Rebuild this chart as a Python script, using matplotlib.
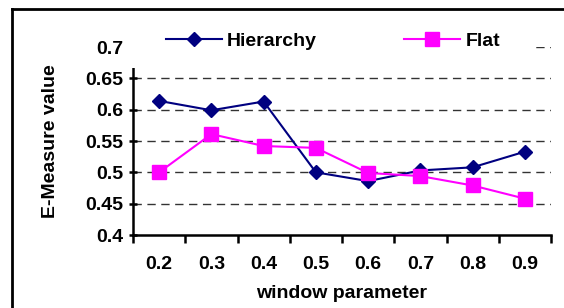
import numpy as np
import matplotlib
matplotlib.use('Agg')
import matplotlib.pyplot as plt
from matplotlib.lines import Line2D
from matplotlib.patches import Rectangle

# data
windows = ['0.2', '0.3', '0.4', '0.5', '0.6', '0.7', '0.8', '0.9']
hierarchy = [0.614, 0.599, 0.613, 0.500, 0.486, 0.503, 0.508, 0.533]
flat = [0.500, 0.561, 0.542, 0.539, 0.499, 0.494, 0.479, 0.458]
yticks = [0.4, 0.45, 0.5, 0.55, 0.6, 0.65, 0.7]
ytick_labels = ['0.4', '0.45', '0.5', '0.55', '0.6', '0.65', '0.7']

plt.rcParams['font.family'] = ['Liberation Sans', 'DejaVu Sans']
plt.rcParams['font.weight'] = 'bold'
plt.rcParams['font.size'] = 14

W, H = 564, 308
fig = plt.figure(figsize=(W / 100, H / 100), dpi=100)
ax = fig.add_axes([133 / W, 1 - 235 / H, (551 - 133) / W, (235 - 47) / H])

x = np.arange(len(windows))
ax.plot(x, hierarchy, color='#000080', marker='D', ms=7.5, lw=1.5, label='Hierarchy', zorder=3)
ax.plot(x, flat, color='#ff00ff', marker='s', ms=10, lw=1.5, label='Flat', zorder=3)

ax.set_xlim(-0.5, len(windows) - 0.5)
ax.set_ylim(0.4, 0.7)
ax.set_yticks(yticks)
ax.set_yticklabels(ytick_labels, fontweight='bold')
ax.set_xticks(x)
ax.set_xticklabels(windows, fontweight='bold')
ax.tick_params(axis='x', length=0, pad=15)
ax.set_xticks(np.arange(-0.5, len(windows)), minor=True)
ax.tick_params(axis='x', which='minor', length=6, width=1.8, direction='out')
ax.tick_params(axis='y', length=6, width=1.8, direction='inout', pad=4)

for v in yticks[1:]:
    ax.axhline(v, color='#333333', lw=1, ls=(0, (6, 4)), zorder=1)

for s in ['top', 'right']:
    ax.spines[s].set_visible(False)
for s in ['left', 'bottom']:
    ax.spines[s].set_linewidth(1.8)

ax.set_xlabel('window parameter', fontweight='bold')
ax.set_ylabel('E-Measure value', fontweight='bold')
ax.xaxis.set_label_coords(0.5, (235 - 285) / 188)
ax.yaxis.set_label_coords((59 - 133) / 418, 0.5)

# white box behind the legend, covering the top of the plot
fig.patches.append(Rectangle((126 / W, 1 - 68 / H), (535 - 126) / W, 44 / H,
                             transform=fig.transFigure, facecolor='white',
                             edgecolor='none', zorder=5))
leg = fig.legend(loc='center left', bbox_to_anchor=((156 - 7.8) / W, 1 - 41 / H), ncol=2,
                 frameon=False, columnspacing=4.47, handlelength=2.9, handletextpad=0.26,
                 prop={'weight': 'bold', 'size': 14})
leg.set_zorder(6)

# outer chart frame (left and top edges visible)
fig.add_artist(Line2D([12 / W, 12 / W], [0, 1 - 9 / H], transform=fig.transFigure,
                      color='black', lw=2))
fig.add_artist(Line2D([12 / W, 1], [1 - 9 / H, 1 - 9 / H], transform=fig.transFigure,
                      color='black', lw=2))

fig.savefig('out.png', dpi=100)
